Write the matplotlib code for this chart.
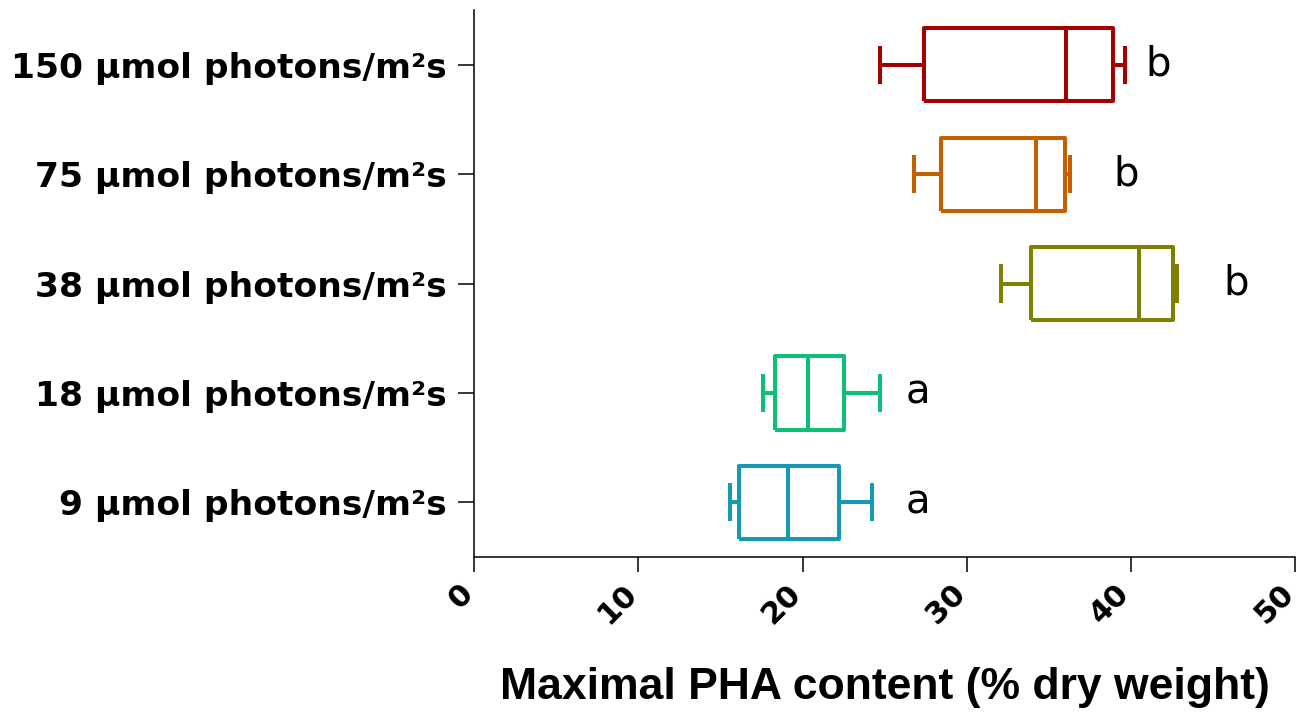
import matplotlib
matplotlib.use("Agg")
import matplotlib.pyplot as plt
from matplotlib.transforms import ScaledTranslation

# Light intensity groups (bottom to top)
categories = ["9 µmol photons/m²s", "18 µmol photons/m²s", "38 µmol photons/m²s",
              "75 µmol photons/m²s", "150 µmol photons/m²s"]
whisker_low = [15.6, 17.6, 32.1, 26.8, 24.7]
q1 = [16.1, 18.3, 33.9, 28.45, 27.4]
median = [19.1, 20.3, 40.45, 34.2, 36.05]
q3 = [22.2, 22.5, 42.55, 36.0, 38.9]
whisker_high = [24.25, 24.7, 42.8, 36.3, 39.65]
colors = ["#1699b5", "#0bbf78", "#808000", "#c46000", "#a30000"]
letters = ["a", "a", "b", "b", "b"]
letter_x = [26.3, 26.3, 45.6, 38.9, 40.85]
xticks = [0, 10, 20, 30, 40, 50]

plt.rcParams["font.family"] = ["Liberation Sans", "DejaVu Sans"]

fig = plt.figure(figsize=(13.03, 7.19), dpi=100)
ax = fig.add_axes([0.3638, 0.2253, 0.9942 - 0.3638, 0.986 - 0.2253])

for i in range(len(categories)):
    stats = [dict(whislo=whisker_low[i], q1=q1[i], med=median[i], q3=q3[i],
                  whishi=whisker_high[i], fliers=[])]
    c = colors[i]
    lp = dict(color=c, linewidth=2.9, solid_capstyle="butt", solid_joinstyle="round")
    ax.bxp(stats, positions=[i], widths=0.67, vert=False, showfliers=False,
           capwidths=[0.35],
           boxprops=dict(lp), medianprops=dict(lp), whiskerprops=dict(lp),
           capprops=dict(lp))
    ax.text(letter_x[i], i, letters[i], fontsize=29, ha="left", va="center",
            color="black", family="DejaVu Sans")

ax.set_ylim(-0.5, 4.5)
ax.set_xlim(0, 50)
ax.set_yticks(range(len(categories)))
ax.set_yticklabels(categories, fontsize=24.8, fontweight="bold", family="DejaVu Sans")
ax.set_xticks(xticks)
ax.set_xticklabels([str(t) for t in xticks], fontsize=22, fontweight="bold",
                   family="DejaVu Sans", rotation=45, ha="right", va="center",
                   rotation_mode="anchor")
ax.tick_params(axis="x", length=11, width=1.1, pad=12)
ax.tick_params(axis="y", length=11.5, width=1.1, pad=8)
# nudge the slanted labels a little left so the last one stays inside the canvas
shift = ScaledTranslation(-6 / 100, 0, fig.dpi_scale_trans)
for lab in ax.get_xticklabels():
    lab.set_transform(lab.get_transform() + shift)
for s in ["top", "right"]:
    ax.spines[s].set_visible(False)
for s in ["left", "bottom"]:
    ax.spines[s].set_linewidth(1.1)
ax.set_xlabel("Maximal PHA content (% dry weight)", fontsize=32, fontweight="bold",
              va="top")
ax.xaxis.set_label_coords(0.5, -0.201)

fig.savefig("out.png", dpi=100)
